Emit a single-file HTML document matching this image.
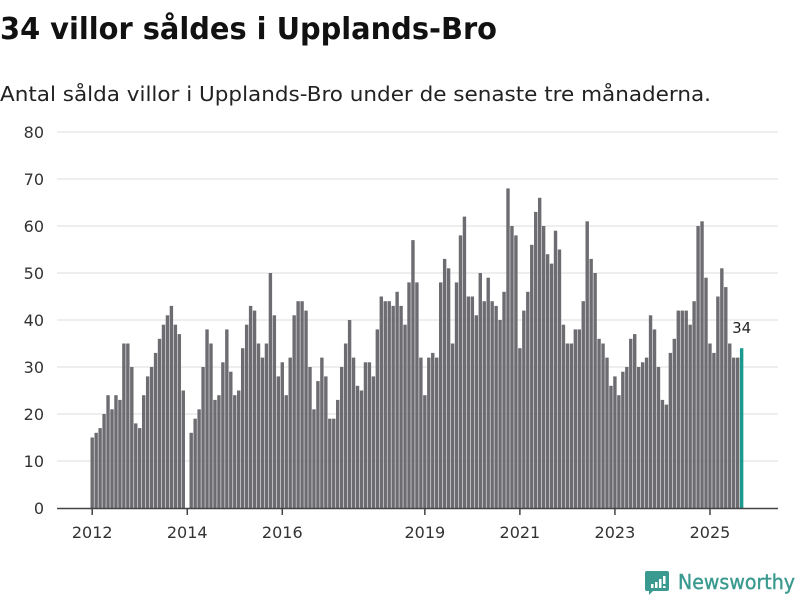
<!DOCTYPE html>
<html><head><meta charset="utf-8"><style>
html,body{margin:0;padding:0;background:#fff;}
svg{display:block;font-family:"DejaVu Sans","Liberation Sans",sans-serif;}
</style></head><body>
<svg id="chart" width="800" height="600" viewBox="0 0 800 600">
<text x="0" y="39" font-size="30" font-weight="bold" fill="#111" textLength="497" lengthAdjust="spacingAndGlyphs">34 villor såldes i Upplands-Bro</text>
<text x="0" y="101" font-size="20" fill="#222" textLength="711" lengthAdjust="spacingAndGlyphs">Antal sålda villor i Upplands-Bro under de senaste tre månaderna.</text>
<g id="grid"></g>
<g id="bars"></g>
<g id="xaxis"></g>
<g>
<path d="M647 571h20a2 2 0 0 1 2 2v16a2 2 0 0 1-2 2h-14l-4 4v-4h-2a2 2 0 0 1-2-2v-16a2 2 0 0 1 2-2z" fill="#3a9a8f"/>
<rect x="651" y="584" width="2.5" height="4" fill="#fff"/><rect x="655" y="582" width="2.5" height="6" fill="#fff"/><rect x="659" y="579" width="2.5" height="9" fill="#fff"/><rect x="663" y="576" width="2.5" height="8" fill="#fff"/><rect x="663" y="586" width="2.5" height="2" fill="#fff"/>
<text x="678" y="589" font-size="20" fill="#3a9a8f" stroke="#3a9a8f" stroke-width="0.4" textLength="117" lengthAdjust="spacingAndGlyphs">Newsworthy</text>
</g>
</svg>
<script>
const yTicks = [0,10,20,30,40,50,60,70,80];
const yearLabels = ["2012","2014","2016","2019","2021","2023","2025"];
const yearLabelIndex = [0,24,48,84,108,132,156];
const values = [
15,16,17,20,24,21,24,23,35,35,30,18,
17,24,28,30,33,36,39,41,43,39,37,25,
null,16,19,21,30,38,35,23,24,31,38,29,
24,25,34,39,43,42,35,32,35,50,41,28,
31,24,32,41,44,44,42,30,21,27,32,28,
19,19,23,30,35,40,32,26,25,31,31,28,
38,45,44,44,43,46,43,39,48,57,48,32,
24,32,33,32,48,53,51,35,48,58,62,45,
45,41,50,44,49,44,43,40,46,68,60,58,
34,42,46,56,63,66,60,54,52,59,55,39,
35,35,38,38,44,61,53,50,36,35,32,26,
28,24,29,30,36,37,30,31,32,41,38,30,
23,22,33,36,42,42,42,39,44,60,61,49,
35,33,45,51,47,35,32,32,34
];
const NS="http://www.w3.org/2000/svg";
const y0=508, yTop=132, yMax=80;
const yScale=v=>y0-(v/yMax)*(y0-yTop);
const step=3.96, xStart=92.2;
const xScale=i=>xStart+i*step;
const grid=document.getElementById('grid');
yTicks.forEach(t=>{
  if(t>0){const l=document.createElementNS(NS,'line');
  l.setAttribute('x1',57);l.setAttribute('x2',778);l.setAttribute('y1',yScale(t));l.setAttribute('y2',yScale(t));
  l.setAttribute('stroke','#dddddd');l.setAttribute('stroke-width',1);
  
  
  grid.appendChild(l);}
  const tx=document.createElementNS(NS,'text');
  tx.setAttribute('x',44);tx.setAttribute('y',yScale(t)+6);tx.setAttribute('text-anchor','end');
  tx.setAttribute('font-size',16);tx.setAttribute('fill','#333');tx.textContent=t;
  
  
  grid.appendChild(tx);
});
const bars=document.getElementById('bars');
const last=values.length-1;
values.forEach((v,i)=>{
  if(v==null)return;
  const r=document.createElementNS(NS,'rect');
  r.setAttribute('x',xScale(i)-1.7);r.setAttribute('width',3.4);
  r.setAttribute('y',yScale(v));r.setAttribute('height',y0-yScale(v));
  r.setAttribute('fill',i===last?'#1a9a8e':'#6d6c71');
  
  
  bars.appendChild(r);
});
const lab=document.createElementNS(NS,'text');
lab.setAttribute('x',xScale(last));lab.setAttribute('y',yScale(values[last])-15);
lab.setAttribute('text-anchor','middle');lab.setAttribute('font-size',15);lab.setAttribute('fill','#222');
lab.textContent=values[last];


bars.appendChild(lab);
const xa=document.getElementById('xaxis');
const base=document.createElementNS(NS,'line');
base.setAttribute('x1',57);base.setAttribute('x2',778);base.setAttribute('y1',y0+0.5);base.setAttribute('y2',y0+0.5);
base.setAttribute('stroke','#444');base.setAttribute('stroke-width',1.5);


xa.appendChild(base);
yearLabels.forEach((lbl,k)=>{
  const x=xScale(yearLabelIndex[k]);
  const t=document.createElementNS(NS,'line');
  t.setAttribute('x1',x);t.setAttribute('x2',x);t.setAttribute('y1',y0);t.setAttribute('y2',y0+7);
  t.setAttribute('stroke','#444');t.setAttribute('stroke-width',1.5);
  
  
  xa.appendChild(t);
  const tx=document.createElementNS(NS,'text');
  tx.setAttribute('x',x);tx.setAttribute('y',y0+30);tx.setAttribute('text-anchor','middle');
  tx.setAttribute('font-size',16);tx.setAttribute('fill','#333');tx.textContent=lbl;
  
  
  xa.appendChild(tx);
});
</script>
</body></html>
